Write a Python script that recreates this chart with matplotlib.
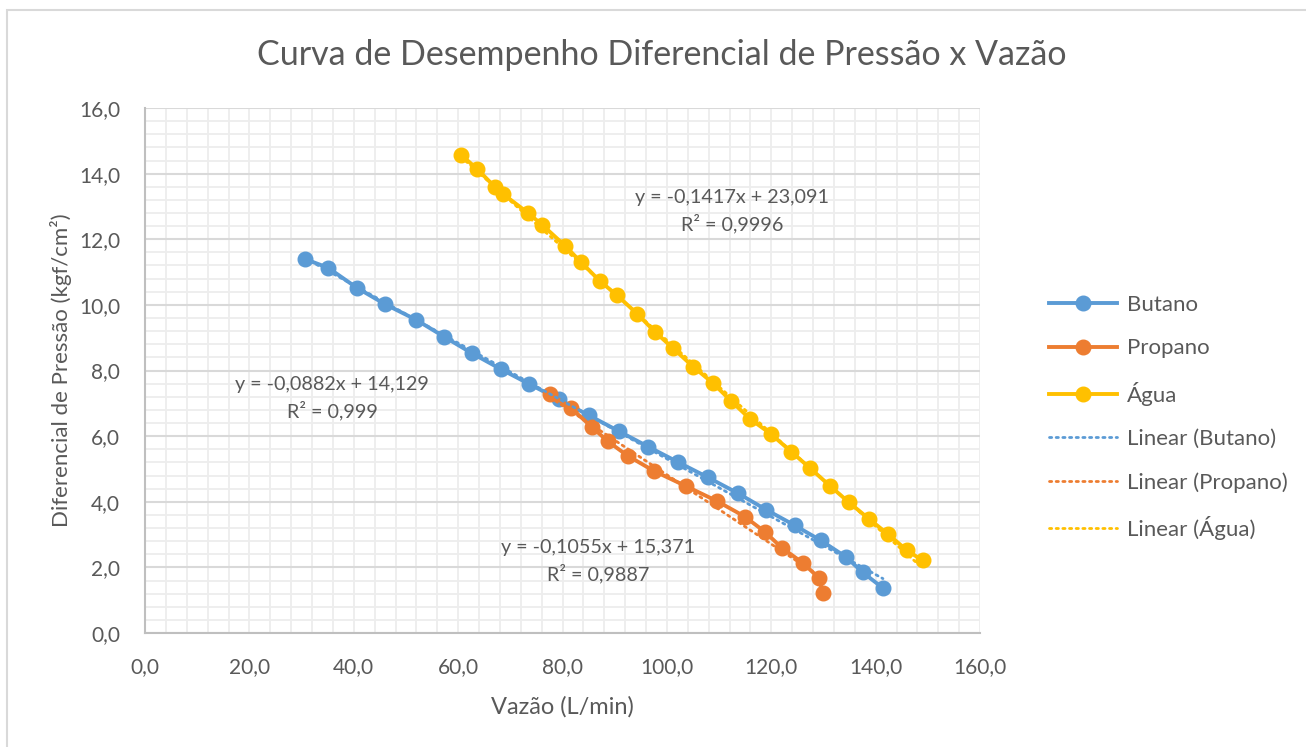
import matplotlib
matplotlib.use("Agg")
import matplotlib.pyplot as plt
import numpy as np
from matplotlib.ticker import MultipleLocator, FuncFormatter
from matplotlib.patches import Rectangle

# --------------------------------------------------------
# Dados
# --------------------------------------------------------
butano_x = [30.6, 35.1, 40.6, 46.0, 51.9, 57.3, 62.6, 68.2, 73.6, 79.3, 85.1,
            90.8, 96.4, 102.1, 107.9, 113.6, 119.0, 124.5, 129.5, 134.3, 137.5, 141.4]
butano_y = [11.40, 11.13, 10.52, 10.02, 9.55, 9.03, 8.53, 8.04, 7.59, 7.12, 6.63,
            6.15, 5.68, 5.21, 4.74, 4.26, 3.76, 3.28, 2.82, 2.32, 1.85, 1.37]

propano_x = [77.6, 81.6, 85.6, 88.7, 92.5, 97.5, 103.6, 109.6, 114.9, 118.8,
             122.0, 126.1, 129.1, 129.9]
propano_y = [7.29, 6.86, 6.28, 5.84, 5.40, 4.94, 4.48, 4.02, 3.55, 3.08,
             2.60, 2.13, 1.68, 1.22]

agua_x = [60.5, 63.6, 67.0, 68.6, 73.4, 76.1, 80.5, 83.5, 87.2, 90.4, 94.3, 97.7, 101.1,
          105.0, 108.8, 112.3, 115.9, 119.9, 123.8, 127.4, 131.2, 134.9, 138.7, 142.3,
          146.0, 149.0]
agua_y = [14.58, 14.15, 13.60, 13.38, 12.80, 12.44, 11.80, 11.31, 10.72, 10.30, 9.73,
          9.18, 8.69, 8.12, 7.62, 7.07, 6.53, 6.07, 5.53, 5.03, 4.49, 3.98, 3.48, 3.02,
          2.52, 2.21]

# coeficientes das linhas de tendência (rótulos do gráfico)
inclinacoes = [-0.0882, -0.1055, -0.1417]
interceptos = [14.129, 15.371, 23.091]
r2 = ["0,999", "0,9887", "0,9996"]
nomes = ["Butano", "Propano", "Água"]
cores = ["#5B9BD5", "#ED7D31", "#FFC000"]

texto_cor = "#595959"
plt.rcParams['font.family'] = ['Lato', 'DejaVu Sans']

fig = plt.figure(figsize=(13.06, 7.47), dpi=100)
fig.patches.append(Rectangle((7 / 1306, -0.05), 1.1, 1 - 10 / 747 + 0.05,
                             transform=fig.transFigure, fill=False,
                             edgecolor="#D9D9D9", linewidth=1.5))

ax = fig.add_axes([145 / 1306, 1 - 633 / 747, 835 / 1306, 525 / 747])

series = [(butano_x, butano_y), (propano_x, propano_y), (agua_x, agua_y)]
handles_dados = []
handles_fit = []
for (xs, ys), nome, cor in zip(series, nomes, cores):
    h, = ax.plot(xs, ys, '-o', color=cor, lw=2.8, markersize=10.5, label=nome, zorder=3)
    handles_dados.append(h)
for (xs, ys), a, b, nome, cor in zip(series, inclinacoes, interceptos, nomes, cores):
    xx = np.array([min(xs), max(xs)])
    h, = ax.plot(xx, a * xx + b, linestyle=(0, (0.8, 1.6)), color=cor, lw=2.0,
                 dash_capstyle='round', label=f"Linear ({nome})", zorder=4)
    handles_fit.append(h)

# equações
posicoes = [(332, 398), (598, 561), (732, 211)]
for (px, py), a, b, r in zip(posicoes, inclinacoes, interceptos, r2):
    txt = f"y = {a:.4f}x + {b:.3f}".replace('.', ',') + f"\nR² = {r}"
    fig.text(px / 1306, 1 - py / 747, txt, ha='center', va='center',
             multialignment='center', fontsize=14.2, color=texto_cor, linespacing=1.5)

ax.set_xlim(0, 160)
ax.set_ylim(0, 16)
ax.xaxis.set_major_locator(MultipleLocator(20))
ax.xaxis.set_minor_locator(MultipleLocator(4))
ax.yaxis.set_major_locator(MultipleLocator(2))
ax.yaxis.set_minor_locator(MultipleLocator(0.4))
fmt = FuncFormatter(lambda v, p: f"{v:.1f}".replace('.', ','))
ax.xaxis.set_major_formatter(fmt)
ax.yaxis.set_major_formatter(fmt)

ax.grid(True, axis='x', which='both', color='#EDEDED', lw=1.3)
ax.grid(True, axis='y', which='minor', color='#EDEDED', lw=1.3)
ax.grid(True, axis='y', which='major', color='#D9D9D9', lw=1.5)
ax.set_axisbelow(True)

for s in ['top', 'right']:
    ax.spines[s].set_visible(False)
for s in ['left', 'bottom']:
    ax.spines[s].set_color('#BFBFBF')
    ax.spines[s].set_linewidth(1.5)
ax.tick_params(which='both', length=0, labelsize=15, labelcolor=texto_cor)
ax.tick_params(axis='x', pad=17)
ax.tick_params(axis='y', pad=18)

ax.set_xlabel("Vazão (L/min)", fontsize=17, color=texto_cor, labelpad=14)
ax.set_ylabel("Diferencial de Pressão (kgf/cm²)", fontsize=16, color=texto_cor, labelpad=5)
fig.text(662 / 1306, 1 - 55 / 747, "Curva de Desempenho Diferencial de Pressão x Vazão",
         ha='center', va='center', fontsize=24.5, color=texto_cor)

leg = fig.legend(handles=handles_dados + handles_fit, loc='upper left',
                 bbox_to_anchor=(1029 / 1306, 1 - 275 / 747), frameon=False,
                 fontsize=16, labelcolor=texto_cor, handlelength=3.06,
                 labelspacing=1.05, handletextpad=0.45)

fig.savefig("out.png", dpi=100)
